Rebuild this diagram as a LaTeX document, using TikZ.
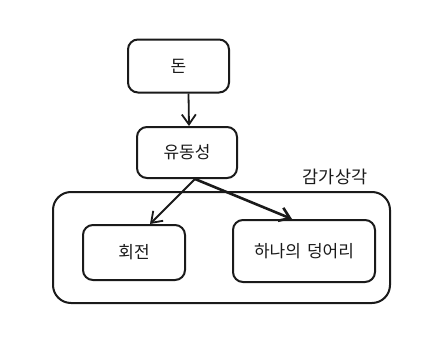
\documentclass[tikz,border=0pt]{standalone}
\usepackage{fontspec}
\newfontfamily\kofont[WordSpace=1.6]{Noto Sans CJK KR}
\usetikzlibrary{arrows.meta,positioning}
\definecolor{ink}{HTML}{1A1A1A}
\tikzset{
  box/.style={draw=ink,line width=2pt,rounded corners=10pt,align=center,
              inner sep=0pt,text=ink,font=\kofont\fontsize{17}{20}\selectfont},
  groupbox/.style={draw=ink,line width=2pt,rounded corners=18pt,inner sep=0pt},
  grouplabel/.style={text=ink,font=\kofont\fontsize{17.5}{20}\selectfont},
  arr/.style={-{Straight Barb[length=10pt,width=14pt]},line width=1.8pt,draw=ink},
  heavyarr/.style={-{Straight Barb[length=10pt,width=14pt]},line width=2.6pt,draw=ink}
}
\begin{document}
\begin{tikzpicture}[x=1pt,y=-1pt]
    \path[use as bounding box,fill=white] (0,0) rectangle (439,348);
    % outer group
    \node[groupbox,minimum width=337pt,minimum height=111pt] (group) at (221.5,247.5) {};
    \node[grouplabel] (grouptitle) at (335,177) {감가상각};

    \node[box,minimum width=101pt,minimum height=53pt] (don) at (178.5,66) {돈};
    \node[box,minimum width=100pt,minimum height=51pt] (liq) at (187,152.5) {유동성};
    \node[box,minimum width=102pt,minimum height=55pt] (turn) at (134,252.5) {회전};
    \node[box,minimum width=142pt,minimum height=62pt] (lump) at (304,251) {하나의 덩어리};

    \draw[arr] ([xshift=10pt]don.south) -- ([xshift=2pt]liq.north);
    \draw[arr] ([xshift=8pt]liq.south) -- ([xshift=16pt]turn.north);
    \draw[heavyarr] ([xshift=8pt]liq.south) -- ([xshift=-12pt]lump.north);
\end{tikzpicture}
\end{document}
